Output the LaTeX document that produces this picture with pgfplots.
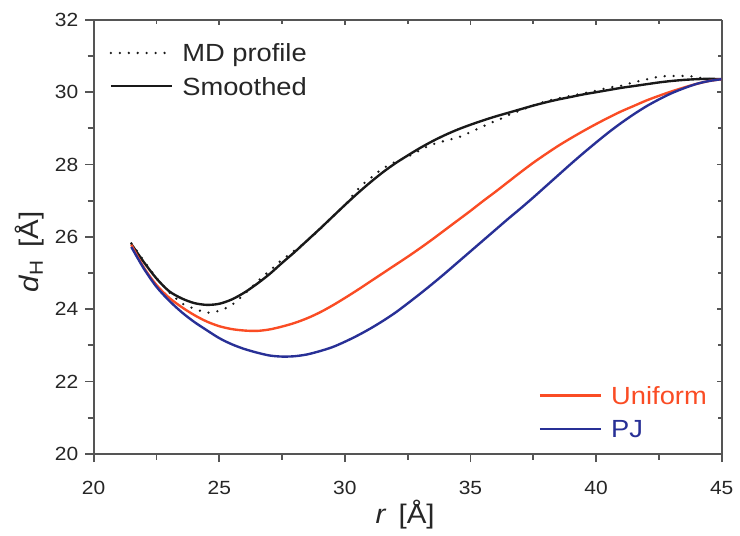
\documentclass[border=0pt]{standalone}
\usepackage{fontspec}
\setmainfont[FakeStretch=1.1]{Liberation Sans}
\usepackage{pgfplots}
\pgfplotsset{compat=1.18}
\definecolor{uniorange}{RGB}{250,76,36}
\definecolor{pjblue}{RGB}{40,48,150}
\definecolor{axgray}{RGB}{85,85,85}

\pgfplotsset{
  base/.style={
    scale only axis, width=316.2pt, height=218.5pt,
    xmin=20, xmax=45, ymin=20, ymax=32,
    xtick={20,25,...,45}, ytick={20,22,...,32},
    minor x tick num=1, minor y tick num=1,
    axis line style={axgray, line width=0.9pt, -},
    every tick/.style={axgray, line width=0.9pt},
    every minor tick/.style={axgray, line width=0.9pt},
    /pgf/number format/assume math mode=true,
    tick label style={font=\fontsize{9.6}{11}\selectfont, text=black!85},
    xticklabel style={yshift=-6pt},
    legend image code/.code={\draw[#1] (0pt,0pt) -- (31pt,0pt);},
    legend style={draw=none, fill=none, inner sep=0pt, row sep=4.7pt,
      column sep=4.3pt, text=black!85,
      font=\fontsize{12.5}{14}\selectfont,
      nodes={inner sep=0pt, text height=10.5pt, text depth=1.5pt}},
    legend cell align=left,
  },
}

\begin{document}
\begin{tikzpicture}
\begin{axis}[base,
  axis x line*=bottom, axis y line*=left,
  tick align=outside, major tick length=4.2pt, minor tick length=3pt,
  xlabel={\textit{r}\hspace{0.45em}[Å]},
  ylabel={\textit{d}\textsubscript{\fontsize{9.5}{10}\selectfont H}\hspace{0.45em}[Å]},
  every axis x label/.style={at={(axis description cs:0.496,-0.1396)}, anchor=center,
    font=\fontsize{13.5}{15}\selectfont, text=black!85},
  every axis y label/.style={at={(axis description cs:-0.1017,0.465)}, anchor=center, rotate=90,
    font=\fontsize{13.5}{15}\selectfont, text=black!85},
  legend style={at={(axis description cs:0.0248,0.8855)}, anchor=west},
]
\addplot[black!90, line width=1.3pt, line cap=round, dash pattern=on 0pt off 4.5pt] coordinates {
  (21.5,25.82) (22.0,25.34) (22.5,24.86) (23.0,24.47) (23.5,24.16) (24.0,24.01)
  (24.5,23.90) (25.0,23.95) (25.3,24.04) (25.63,24.18) (26.0,24.42) (26.35,24.65)
  (26.7,24.88) (27.04,25.08) (27.38,25.30) (27.74,25.49) (28.09,25.67) (28.43,25.85)
  (28.79,26.07) (29.1,26.27) (29.5,26.55) (30.08,26.94) (30.37,27.2) (30.67,27.43)
  (31.03,27.63) (31.37,27.82) (31.72,27.98) (32.06,28.09) (32.41,28.19) (32.75,28.3)
  (33.07,28.43) (33.44,28.55) (33.8,28.62) (34.15,28.69) (34.49,28.74) (34.85,28.85)
  (35.2,28.96) (35.55,29.07) (35.9,29.18) (36.26,29.28) (36.6,29.4) (36.96,29.49)
  (37.29,29.58) (37.6,29.66) (38.0,29.75) (38.5,29.83) (39.0,29.9) (39.5,29.97)
  (40.0,30.04) (40.4,30.11) (40.78,30.16) (41.11,30.19) (41.46,30.27) (41.81,30.32)
  (42.16,30.38) (42.52,30.43) (42.86,30.45) (43.22,30.45) (43.57,30.45) (43.91,30.43)
  (44.27,30.38) (44.6,30.36) (45.0,30.35)
};
\addlegendentry{MD profile}
\addplot[black!90, line width=1.2pt, smooth] coordinates {
  (21.5,25.80) (22.0,25.30) (22.5,24.85) (23.0,24.50) (23.5,24.30) (24.0,24.17)
  (24.5,24.12) (25.0,24.15) (25.5,24.27) (26.0,24.46) (26.5,24.70) (27.0,24.97)
  (27.5,25.28) (28.0,25.58) (28.5,25.90) (29.0,26.22) (29.5,26.55) (30.0,26.88)
  (30.5,27.20) (31.0,27.50) (31.5,27.78) (32.0,28.03) (32.5,28.25) (33.0,28.46)
  (33.5,28.65) (34.0,28.82) (34.5,28.97) (35.0,29.10) (35.5,29.22) (36.0,29.33)
  (36.5,29.43) (37.0,29.53) (37.5,29.63) (38.0,29.72) (38.5,29.80) (39.0,29.87)
  (39.5,29.94) (40.0,30.00) (40.5,30.06) (41.0,30.12) (41.5,30.17) (42.0,30.22)
  (42.5,30.27) (43.0,30.31) (43.5,30.34) (44.0,30.36) (44.5,30.37) (45.0,30.36)
};
\addlegendentry{Smoothed}
\end{axis}

\begin{axis}[base,
  axis x line*=top, axis y line*=right,
  tick align=inside, major tick length=2.6pt, minor tick length=2pt,
  xticklabels={}, yticklabels={},
  legend style={at={(axis description cs:0.708,0.0961)}, anchor=west},
]
\addplot[uniorange, line width=1.2pt, smooth] coordinates {
  (21.5,25.78) (22.0,25.15) (22.5,24.67) (23.0,24.32) (23.5,24.06) (24.0,23.84)
  (24.5,23.66) (25.0,23.53) (25.5,23.45) (26.0,23.41) (26.5,23.40) (27.0,23.44)
  (27.5,23.52) (28.0,23.62) (28.5,23.75) (29.0,23.91) (29.5,24.10) (30.0,24.31)
  (30.5,24.53) (31.0,24.76) (31.5,24.99) (32.0,25.22) (32.5,25.45) (33.0,25.69)
  (33.5,25.94) (34.0,26.20) (34.5,26.46) (35.0,26.72) (35.5,26.99) (36.0,27.25)
  (36.5,27.52) (37.0,27.79) (37.5,28.05) (38.0,28.29) (38.5,28.52) (39.0,28.73)
  (39.5,28.93) (40.0,29.12) (40.5,29.30) (41.0,29.47) (41.5,29.62) (42.0,29.77)
  (42.5,29.90) (43.0,30.02) (43.5,30.13) (44.0,30.23) (44.5,30.31) (45.0,30.36)
};
\addlegendentry{\textcolor{uniorange}{Uniform}}
\addplot[pjblue, line width=1.2pt, smooth] coordinates {
  (21.5,25.72) (22.0,25.12) (22.5,24.62) (23.0,24.24) (23.5,23.92) (24.0,23.65)
  (24.5,23.42) (25.0,23.20) (25.5,23.03) (26.0,22.90) (26.5,22.80) (27.0,22.72)
  (27.5,22.69) (28.0,22.70) (28.5,22.75) (29.0,22.84) (29.5,22.95) (30.0,23.10)
  (30.5,23.27) (31.0,23.46) (31.5,23.67) (32.0,23.90) (32.5,24.16) (33.0,24.43)
  (33.5,24.71) (34.0,25.00) (34.5,25.30) (35.0,25.60) (35.5,25.90) (36.0,26.20)
  (36.5,26.50) (37.0,26.79) (37.5,27.09) (38.0,27.40) (38.5,27.71) (39.0,28.02)
  (39.5,28.32) (40.0,28.61) (40.5,28.89) (41.0,29.15) (41.5,29.39) (42.0,29.61)
  (42.5,29.80) (43.0,29.97) (43.5,30.11) (44.0,30.23) (44.5,30.31) (45.0,30.36)
};
\addlegendentry{\textcolor{pjblue}{PJ}}
\end{axis}
\path[use as bounding box] (-47.15pt,-39.5pt) rectangle (322.85pt,228.5pt);
\end{tikzpicture}
\end{document}
